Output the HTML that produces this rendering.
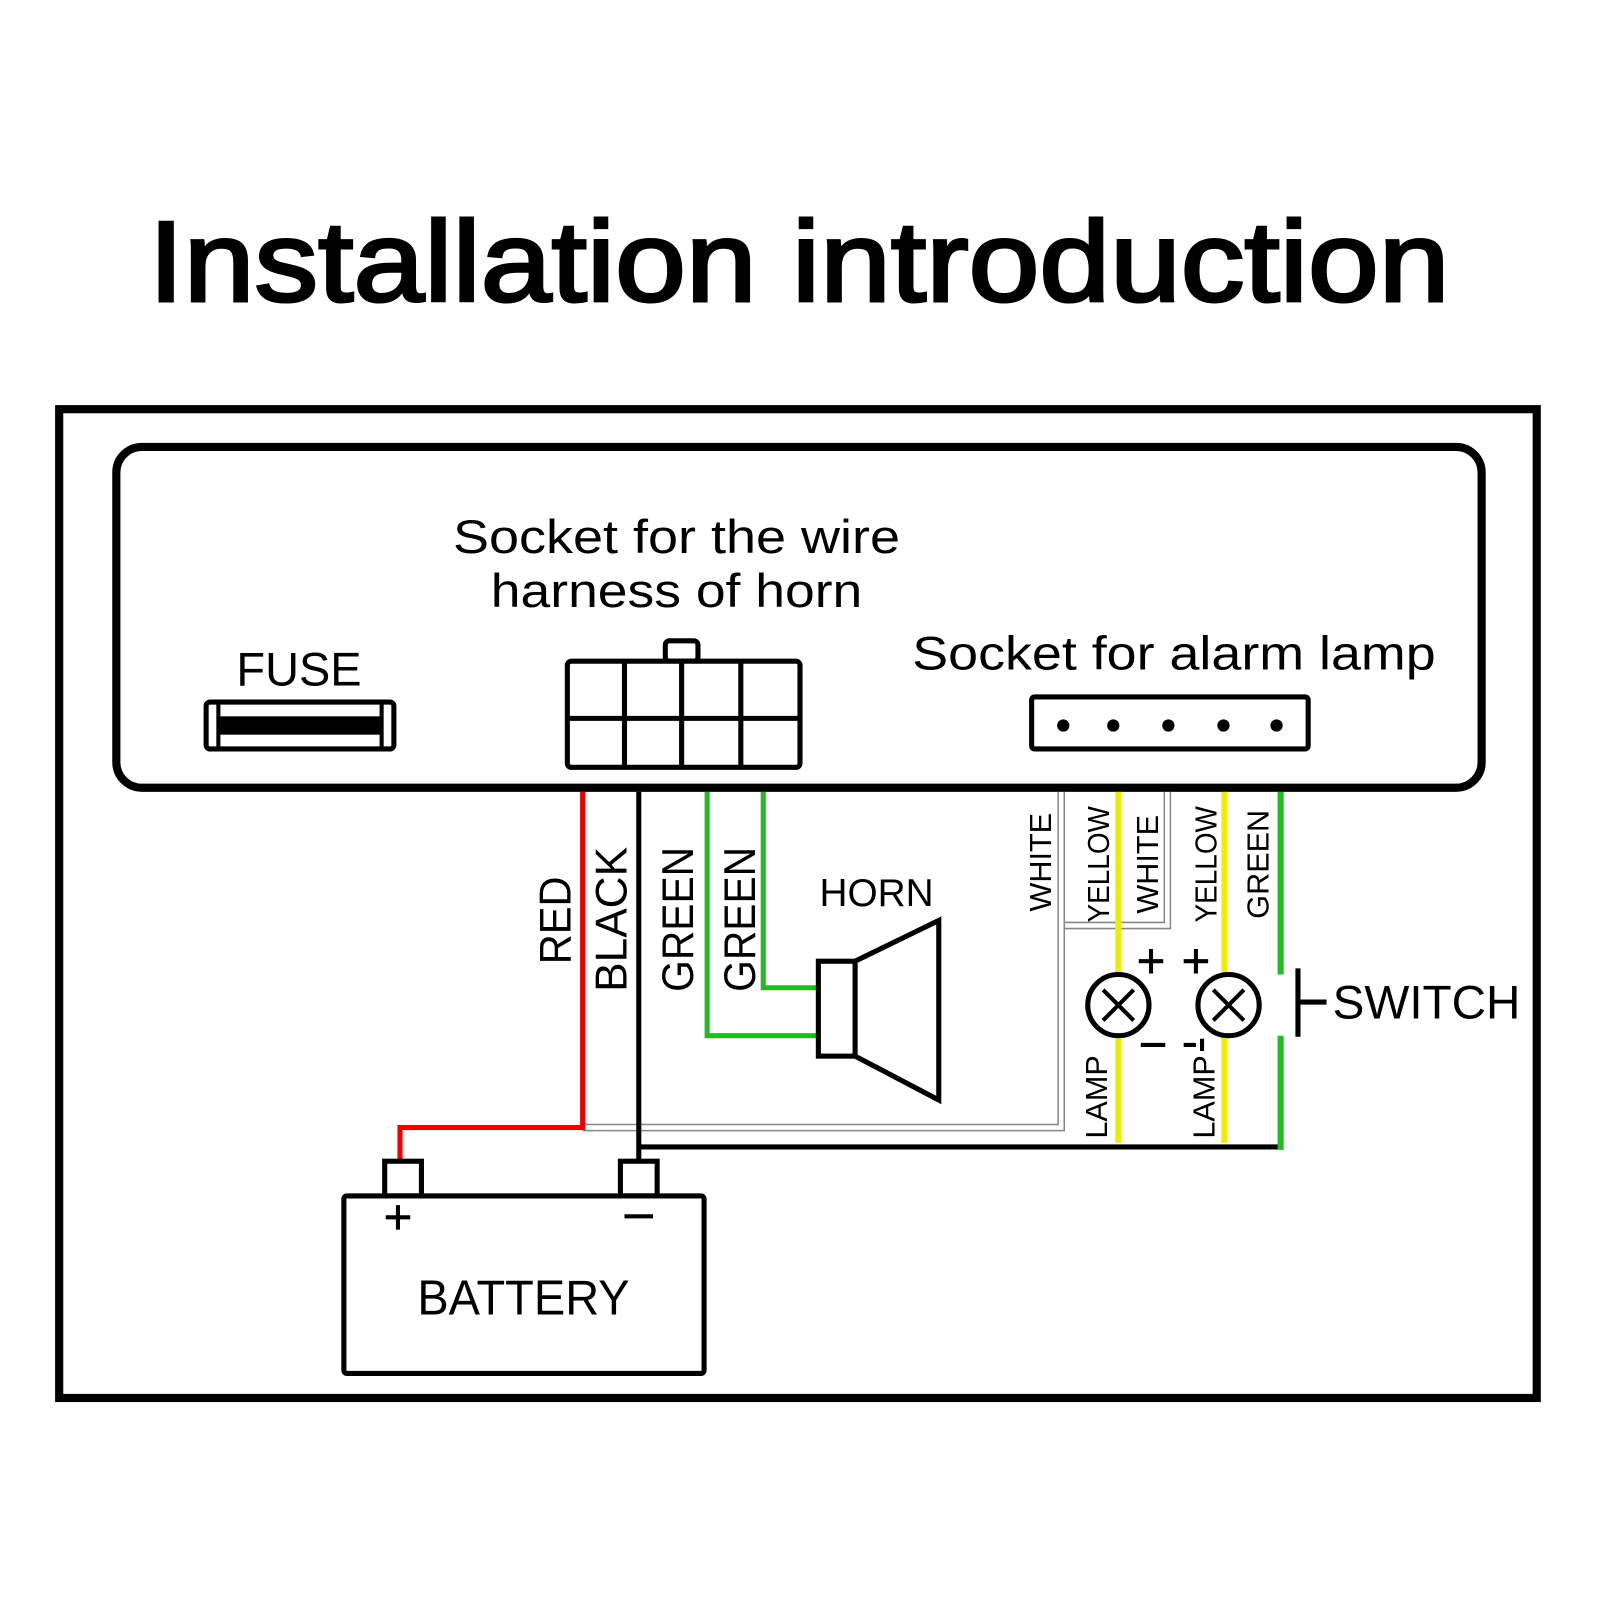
<!DOCTYPE html>
<html><head><meta charset="utf-8"><style>
html,body{margin:0;padding:0;background:#fff}
svg{display:block}
text{font-family:"Liberation Sans",sans-serif;fill:#000}
</style></head><body>
<svg width="1600" height="1600" viewBox="0 0 1568 1568" xmlns="http://www.w3.org/2000/svg">
<rect width="1568" height="1568" fill="#fff"/>
<text x="783" y="295" font-size="112" text-anchor="middle" textLength="1275" lengthAdjust="spacingAndGlyphs" stroke="#000" stroke-width="3">Installation introduction</text>
<rect x="58" y="401" width="1448" height="969" fill="none" stroke="#000" stroke-width="8"/>
<rect x="114" y="438" width="1338" height="334" rx="25" fill="none" stroke="#000" stroke-width="8"/>
<text x="663" y="542" font-size="46" text-anchor="middle" textLength="438" lengthAdjust="spacingAndGlyphs">Socket for the wire</text>
<text x="663" y="595" font-size="46" text-anchor="middle" textLength="364" lengthAdjust="spacingAndGlyphs">harness of horn</text>
<text x="293" y="672" font-size="46" text-anchor="middle">FUSE</text>
<rect x="202" y="688" width="184" height="46" rx="4" fill="none" stroke="#000" stroke-width="5"/>
<rect x="215" y="702" width="158" height="18" fill="#000"/>
<line x1="214" y1="690" x2="214" y2="732" stroke="#000" stroke-width="4"/>
<line x1="374" y1="690" x2="374" y2="732" stroke="#000" stroke-width="4"/>
<rect x="652" y="628" width="32" height="20" rx="4" fill="none" stroke="#000" stroke-width="5"/>
<rect x="556" y="648" width="228" height="104" rx="4" fill="#fff" stroke="#000" stroke-width="5"/>
<line x1="612" y1="648" x2="612" y2="752" stroke="#000" stroke-width="5"/>
<line x1="668" y1="648" x2="668" y2="752" stroke="#000" stroke-width="5"/>
<line x1="726" y1="648" x2="726" y2="752" stroke="#000" stroke-width="5"/>
<line x1="556" y1="704" x2="784" y2="704" stroke="#000" stroke-width="5"/>
<text x="894" y="656" font-size="46" textLength="513" lengthAdjust="spacingAndGlyphs">Socket for alarm lamp</text>
<rect x="1011" y="683" width="271" height="51" rx="3" fill="none" stroke="#000" stroke-width="5"/>
<g fill="#000"><circle cx="1042" cy="711" r="6"/><circle cx="1091" cy="711" r="6"/><circle cx="1145" cy="711" r="6"/><circle cx="1199" cy="711" r="6"/><circle cx="1251" cy="711" r="6"/></g>
<g fill="none" stroke="#888" stroke-width="1.5">
<path d="M1037 776 V1102 H571"/>
<path d="M1043 776 V1108 H571"/>
<path d="M1141 776 V904 H1043"/>
<path d="M1147 776 V910 H1043"/>
</g>
<path d="M571 776 V1105 H392 V1138" fill="none" stroke="#e00" stroke-width="5"/>
<path d="M626 776 V1138" fill="none" stroke="#000" stroke-width="5"/>
<path d="M626 1124 H1255" fill="none" stroke="#000" stroke-width="5"/>
<path d="M693 776 V1015 H802" fill="none" stroke="#2b2" stroke-width="5"/>
<path d="M748 776 V968 H802" fill="none" stroke="#2b2" stroke-width="5"/>
<path d="M1255 776 V955 M1255 1015 V1127" fill="none" stroke="#2b2" stroke-width="6"/>
<path d="M1096 776 V955 M1096 1015 V1120 M1200 776 V955 M1200 1015 V1120" fill="none" stroke="#ee0" stroke-width="6"/>
<rect x="802" y="942" width="36" height="93" fill="#fff" stroke="#000" stroke-width="5"/>
<path d="M838 942 L920 902 V1078 L838 1035" fill="none" stroke="#000" stroke-width="5"/>
<text x="859" y="888" font-size="38" text-anchor="middle">HORN</text>
<g font-size="44">
<text transform="translate(559,902) rotate(-90)" text-anchor="middle" textLength="86" lengthAdjust="spacingAndGlyphs">RED</text>
<text transform="translate(614,901) rotate(-90)" text-anchor="middle" textLength="142" lengthAdjust="spacingAndGlyphs">BLACK</text>
<text transform="translate(679,901) rotate(-90)" text-anchor="middle" textLength="142" lengthAdjust="spacingAndGlyphs">GREEN</text>
<text transform="translate(740,901) rotate(-90)" text-anchor="middle" textLength="142" lengthAdjust="spacingAndGlyphs">GREEN</text>
</g>
<g font-size="30">
<text transform="translate(1030,845) rotate(-90)" text-anchor="middle">WHITE</text>
<text transform="translate(1087,847) rotate(-90)" text-anchor="middle" textLength="114" lengthAdjust="spacingAndGlyphs">YELLOW</text>
<text transform="translate(1135,847) rotate(-90)" text-anchor="middle">WHITE</text>
<text transform="translate(1192,847) rotate(-90)" text-anchor="middle" textLength="114" lengthAdjust="spacingAndGlyphs">YELLOW</text>
<text transform="translate(1243,847) rotate(-90)" text-anchor="middle">GREEN</text>
<text transform="translate(1085,1075) rotate(-90)" text-anchor="middle">LAMP</text>
<text transform="translate(1190,1075) rotate(-90)" text-anchor="middle">LAMP</text>
</g>
<g fill="#fff" stroke="#000" stroke-width="5">
<circle cx="1096" cy="985" r="30"/>
<circle cx="1204" cy="985" r="30"/>
</g>
<g stroke="#000" stroke-width="4">
<path d="M1081 970 L1111 1000 M1111 970 L1081 1000"/>
<path d="M1189 970 L1219 1000 M1219 970 L1189 1000"/>
<path d="M1116 942 H1140 M1128 930 V954"/>
<path d="M1160 942 H1184 M1172 930 V954"/>
<path d="M1118 1024 H1142 M1160 1024 H1172 M1178 1018 V1030"/>
</g>
<path d="M1272 949 V1016 M1272 982 H1300" fill="none" stroke="#000" stroke-width="5"/>
<text x="1306" y="998" font-size="46" textLength="184" lengthAdjust="spacingAndGlyphs">SWITCH</text>
<rect x="377" y="1138" width="36" height="34" fill="#fff" stroke="#000" stroke-width="5"/>
<rect x="608" y="1138" width="36" height="34" fill="#fff" stroke="#000" stroke-width="5"/>
<rect x="337" y="1172" width="353" height="174" rx="3" fill="none" stroke="#000" stroke-width="5"/>
<path d="M378 1193 H402 M390 1181 V1205 M612 1192 H640" stroke="#000" stroke-width="4"/>
<text x="513" y="1288" font-size="48" text-anchor="middle" textLength="208" lengthAdjust="spacingAndGlyphs">BATTERY</text>
</svg>
</body></html>
